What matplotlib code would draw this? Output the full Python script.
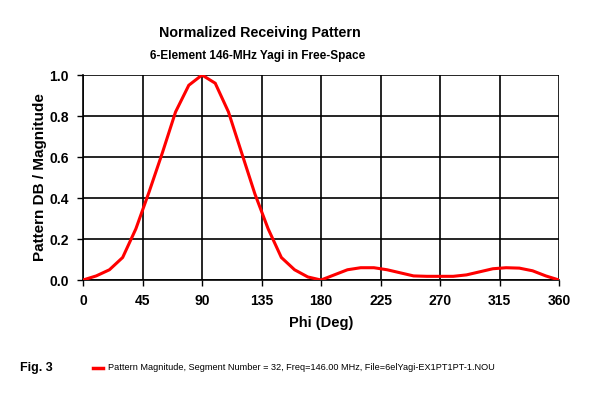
import matplotlib
matplotlib.use("Agg")
import matplotlib.pyplot as plt

plt.rcParams["font.family"] = ["Liberation Sans", "DejaVu Sans"]

# pattern magnitude every 10 degrees
phi = [0, 10, 20, 30, 40, 50, 60, 70, 80, 90,
       100, 110, 120, 130, 140, 150, 160, 170, 180,
       190, 200, 210, 220, 230, 240, 250, 260, 270,
       280, 290, 300, 310, 320, 330, 340, 350, 360]
magnitude = [0.0, 0.02, 0.05, 0.11, 0.25, 0.43, 0.62, 0.82, 0.95, 1.0,
             0.96, 0.82, 0.62, 0.42, 0.25, 0.11, 0.05, 0.015, 0.0,
             0.025, 0.05, 0.06, 0.06, 0.05, 0.035, 0.02, 0.018, 0.018,
             0.018, 0.025, 0.04, 0.055, 0.06, 0.058, 0.045, 0.02, 0.0]
x_ticks = [0, 45, 90, 135, 180, 225, 270, 315, 360]
y_ticks = [0.0, 0.2, 0.4, 0.6, 0.8, 1.0]

fig = plt.figure(figsize=(5.92, 3.94), dpi=100)
ax = fig.add_axes([0.1402, 0.2893, 0.8041, 0.5203])

ax.plot(phi, magnitude, color="#ff0000", lw=2.2, solid_joinstyle="miter", zorder=3)

ax.set_xlim(0, 360)
ax.set_ylim(0, 1.0)
ax.set_xticks(x_ticks)
ax.set_yticks(y_ticks)
ax.set_xticklabels([str(t) for t in x_ticks], fontsize=10, fontweight="bold")
ax.set_yticklabels([f"{t:.1f}" for t in y_ticks], fontsize=10, fontweight="bold")
ax.tick_params(direction="out", length=4, width=1, pad=6)
ax.grid(True, color="black", lw=1.2)
for s in ax.spines.values():
    s.set_linewidth(1.2)
ax.spines["top"].set_visible(False)
ax.spines["right"].set_visible(False)
ax.set_axisbelow(True)

ax.set_xlabel("Phi (Deg)", fontsize=10.5, fontweight="bold", labelpad=6)
ax.set_ylabel("Pattern DB / Magnitude", fontsize=11, fontweight="bold", labelpad=2)

fig.text(260 / 592, 1 - 33 / 394, "Normalized Receiving Pattern",
         ha="center", va="center", fontsize=10.3, fontweight="bold")
fig.text(258 / 592, 1 - 56 / 394, "6-Element 146-MHz Yagi in Free-Space",
         ha="center", va="center", fontsize=8.5, fontweight="bold")

fig.text(20 / 592, 1 - 368 / 394, "Fig. 3", ha="left", va="center",
         fontsize=9, fontweight="bold")
fig.add_artist(plt.Line2D([93 / 592, 103 / 592], [1 - 368 / 394, 1 - 368 / 394],
                          color="#ff0000", lw=2.5, transform=fig.transFigure))
fig.text(108 / 592, 1 - 368 / 394,
         "Pattern Magnitude, Segment Number = 32, Freq=146.00 MHz, File=6elYagi-EX1PT1PT-1.NOU",
         ha="left", va="center", fontsize=6.6)

fig.savefig("out.png", dpi=100, facecolor="white")
